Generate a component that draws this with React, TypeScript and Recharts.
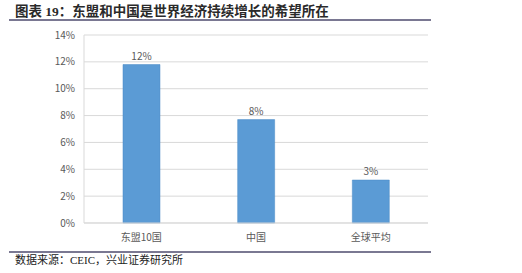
import React from 'react';
import { BarChart, Bar, XAxis, YAxis, CartesianGrid, LabelList } from 'recharts';

const categories = ['东盟10国', '中国', '全球平均'];
const growth = [11.8, 7.7, 3.2];
const yTicks = [0, 2, 4, 6, 8, 10, 12, 14];

const data = categories.map((name, i) => ({ name, value: growth[i] }));

const cjk = '"Liberation Serif", "Noto Sans CJK SC", serif';
const axisFont = '"Noto Sans CJK SC", "Open Sans", sans-serif';

export default function App() {
  return (
    <div style={{ position: 'absolute', left: 0, top: 0, width: 522, height: 273, background: '#fff', overflow: 'hidden' }}>
      <div
        style={{
          position: 'absolute',
          left: 15,
          top: 3,
          fontFamily: cjk,
          fontSize: 13.5,
          fontWeight: 700,
          color: '#2a2a2a',
          whiteSpace: 'nowrap',
          lineHeight: '18px',
        }}
      >
        图表 19：东盟和中国是世界经济持续增长的希望所在
      </div>
      <div style={{ position: 'absolute', left: 9, top: 19, width: 422, height: 1.5, background: '#7a7892' }} />

      <div style={{ position: 'absolute', left: 0, top: 0 }}>
        <BarChart
          width={522}
          height={273}
          data={data}
          margin={{ top: 35, right: 94, left: 0, bottom: 0 }}
          barCategoryGap="34%"
        >
          <CartesianGrid vertical={false} stroke="#d9d9d9" />
          <XAxis
            dataKey="name"
            height={50}
            tickSize={0}
            tickMargin={11}
            axisLine={{ stroke: '#d9d9d9' }}
            tick={{ fill: '#595959', fontSize: 10, fontFamily: axisFont }}
          />
          <YAxis
            width={84}
            domain={[0, 14]}
            ticks={yTicks}
            interval={0}
            tickSize={0}
            tickMargin={9}
            axisLine={{ stroke: '#d9d9d9' }}
            tick={{ fill: '#595959', fontSize: 10, fontFamily: axisFont }}
            tickFormatter={(v) => `${v}%`}
          />
          <Bar dataKey="value" fill="#5b9bd5" stroke="#4a8ac6" strokeWidth={0.5} isAnimationActive={false}>
            <LabelList
              dataKey="value"
              position="top"
              offset={5}
              fill="#595959"
              fontSize={10}
              fontFamily={axisFont}
              formatter={(v: number) => `${Math.round(v)}%`}
            />
          </Bar>
        </BarChart>
      </div>

      <div style={{ position: 'absolute', left: 9, top: 251, width: 422, height: 1.5, background: '#7a7892' }} />
      <div
        style={{
          position: 'absolute',
          left: 15,
          top: 253,
          fontFamily: cjk,
          fontSize: 11,
          color: '#222',
          whiteSpace: 'nowrap',
          lineHeight: '14px',
        }}
      >
        数据来源：CEIC，兴业证券研究所
      </div>
    </div>
  );
}
